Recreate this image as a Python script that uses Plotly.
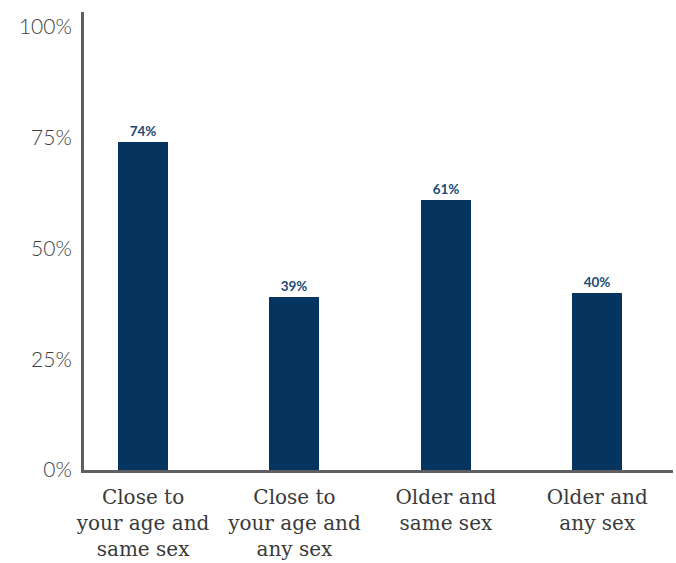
import plotly.graph_objects as go

categories = ["Close to<br>your age and<br>same sex", "Close to<br>your age and<br>any sex",
              "Older and<br>same sex", "Older and<br>any sex"]
values = [74, 39, 61, 40]
value_labels = ["74%", "39%", "61%", "40%"]
y_ticks = [0, 25, 50, 75, 100]
y_tick_labels = ["0%", "25%", "50%", "75%", "100%"]

x_pos = list(range(len(categories)))

fig = go.Figure(go.Bar(
    x=x_pos,
    y=values,
    width=0.33,
    marker=dict(color="#05355E", line=dict(width=0)),
    text=value_labels,
    textposition="outside",
    textfont=dict(family="Lato", size=13.5, color="#1C4A78", weight="bold"),
    cliponaxis=False,
    hoverinfo="skip",
))

fig.update_layout(
    width=676,
    height=563,
    margin=dict(l=84, r=3, t=12, b=93),
    plot_bgcolor="white",
    paper_bgcolor="white",
    showlegend=False,
    bargap=0,
)

fig.update_xaxes(
    range=[-0.39, 3.5],
    tickmode="array",
    tickvals=x_pos,
    ticktext=categories,
    tickfont=dict(family="DejaVu Serif", size=20, color="#3A3A3A"),
    showline=True,
    linecolor="#5F5F63",
    linewidth=3,
    showgrid=False,
    zeroline=False,
    ticks="",
    ticklabelstandoff=7,
)

fig.update_yaxes(
    range=[0, 103.4],
    tickmode="array",
    tickvals=y_ticks,
    ticktext=y_tick_labels,
    tickfont=dict(family="Lato", size=21, color="#3E3E3E", weight=300),
    showline=True,
    linecolor="#5F5F63",
    linewidth=3,
    showgrid=False,
    zeroline=False,
    ticks="",
    ticklabelstandoff=5,
)

fig.write_html("out.html")
